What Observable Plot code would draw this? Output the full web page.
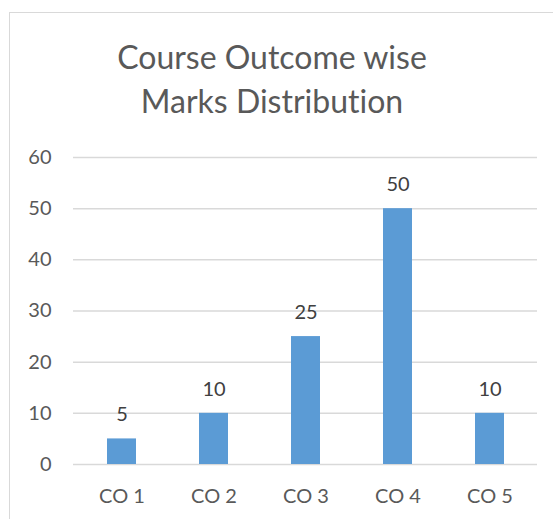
<!DOCTYPE html>
<html>
<head>
<meta charset="utf-8">
<script src="https://cdn.jsdelivr.net/npm/d3@7"></script>
<script src="https://cdn.jsdelivr.net/npm/@observablehq/plot@0.6"></script>
<style>
  html, body { margin: 0; padding: 0; background: #fff; }
  #wrap { position: relative; width: 553px; height: 519px; overflow: hidden; font-family: Lato, "Open Sans", sans-serif; font-variant-ligatures: none; }
  #frame { position: absolute; left: 9px; top: 12px; width: 600px; height: 600px; border-top: 1.5px solid #d9d9d9; border-left: 1.5px solid #d9d9d9; box-sizing: border-box; }
  #title { position: absolute; left: 0; top: 35px; width: 544px; text-align: center; font-size: 32px; line-height: 44px; color: #595959; }
  #chart { position: absolute; left: 0; top: 130px; }
  #chart svg text { font-variant-ligatures: none; }
</style>
</head>
<body>
<div id="wrap">
  <div id="frame"></div>
  <div id="title">Course Outcome wise<br>Marks Distribution</div>
  <div id="chart"></div>
</div>
<script>
const categories = ["CO 1", "CO 2", "CO 3", "CO 4", "CO 5"];
const marks = [5, 10, 25, 50, 10];
const yTicks = [0, 10, 20, 30, 40, 50, 60];

const data = categories.map((c, i) => ({co: c, marks: marks[i]}));

const chart = Plot.plot({
  width: 553,
  height: 389,
  marginTop: 27,
  marginBottom: 55,
  marginLeft: 73,
  marginRight: 16,
  style: {fontFamily: "Lato, 'Open Sans', sans-serif", fontSize: "20px", color: "#595959", background: "transparent"},
  x: {domain: categories, paddingInner: 0.69, paddingOuter: 0.345, label: null},
  y: {domain: [0, 60], label: null},
  marks: [
    Plot.ruleY(yTicks, {stroke: "#d9d9d9", strokeWidth: 1.5}),
    Plot.barY(data, {x: "co", y: "marks", fill: "#5b9bd5"}),
    Plot.text(data, {x: "co", y: "marks", text: d => String(d.marks), dy: -24, fill: "#404040", fontSize: 20}),
    Plot.axisY({ticks: yTicks, tickSize: 0, tickPadding: 22, fontSize: 20, label: null}),
    Plot.axisX({tickSize: 0, tickPadding: 24, fontSize: 20, label: null})
  ]
});
document.getElementById("chart").appendChild(chart);
</script>
</body>
</html>
